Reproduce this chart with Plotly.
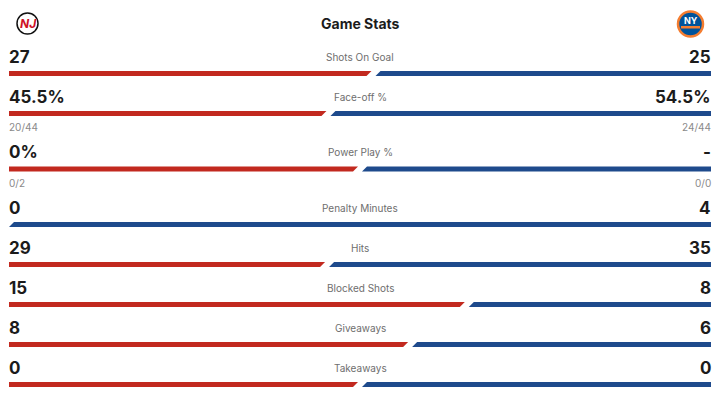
import plotly.graph_objects as go

# ---- data ----
stat_labels = ["Shots On Goal", "Face-off %", "Power Play %", "Penalty Minutes",
               "Hits", "Blocked Shots", "Giveaways", "Takeaways"]
home_text = ["27", "45.5%", "0%", "0", "29", "15", "8", "0"]
away_text = ["25", "54.5%", "-", "4", "35", "8", "6", "0"]
home_vals = [27, 45.5, 0, 0, 29, 15, 8, 0]
away_vals = [25, 54.5, None, 4, 35, 8, 6, 0]
home_sub = ["", "20/44", "0/2", "", "", "", "", ""]
away_sub = ["", "24/44", "0/0", "", "", "", "", ""]
title = "Game Stats"

# ---- style ----
RED = "#C2291F"
BLUE = "#1E4A8C"
FONT = "Inter"
X0, X1 = 9, 711
W = X1 - X0
THICK = 5
SLANT = 5
GAP = 9

fig = go.Figure()
ann = []

y = 71.0
for i, lab in enumerate(stat_labels):
    h = home_vals[i] or 0
    a = away_vals[i] or 0
    frac = 0.5 if (h + a) == 0 else h / (h + a)
    top, bot = y, y + THICK
    s = X0 + W * frac
    if frac > 0:
        rx = [X0, s - GAP / 2 + SLANT / 2, s - GAP / 2 - SLANT / 2, X0, X0]
        fig.add_trace(go.Scatter(x=rx, y=[top, top, bot, bot, top], fill="toself",
                                 fillcolor=RED, line=dict(width=0), mode="lines",
                                 hoverinfo="skip", showlegend=False))
    if frac < 1:
        if frac == 0:
            bl_top, bl_bot = X0 + SLANT, X0
        else:
            bl_top, bl_bot = s + GAP / 2 + SLANT / 2, s + GAP / 2 - SLANT / 2
        bx = [bl_top, X1, X1, bl_bot, bl_top]
        fig.add_trace(go.Scatter(x=bx, y=[top, top, bot, bot, top], fill="toself",
                                 fillcolor=BLUE, line=dict(width=0), mode="lines",
                                 hoverinfo="skip", showlegend=False))
    vy = y - 14.5
    ann.append(dict(x=X0 - 2.5, y=vy, text=home_text[i], xanchor="left", yanchor="middle",
                    showarrow=False, font=dict(family=FONT, size=17, color="#1b1b1b", weight=700)))
    ann.append(dict(x=X1 + 1.5, y=vy, text=away_text[i], xanchor="right", yanchor="middle",
                    showarrow=False, font=dict(family=FONT, size=17, color="#1b1b1b", weight=700)))
    ann.append(dict(x=360, y=vy, text=lab, xanchor="center", yanchor="middle",
                    showarrow=False, font=dict(family=FONT, size=10, color="#6e6e6e")))
    extra = 0
    if home_sub[i] or away_sub[i]:
        ann.append(dict(x=X0 - 2.5, y=y + 16, text=home_sub[i], xanchor="left", yanchor="middle",
                        showarrow=False, font=dict(family=FONT, size=10, color="#8a8a8a")))
        ann.append(dict(x=X1 + 1.5, y=y + 16, text=away_sub[i], xanchor="right", yanchor="middle",
                        showarrow=False, font=dict(family=FONT, size=10, color="#8a8a8a")))
        extra = 15.5
    y += 40 + extra

ann.append(dict(x=360, y=23.5, text=title, xanchor="center", yanchor="middle", showarrow=False,
                font=dict(family=FONT, size=14, color="#1b1b1b", weight=700)))

# team logos (simplified)
shapes = [
    dict(type="circle", xref="x", yref="y", x0=17, x1=38, y0=13, y1=34,
         line=dict(color="#111111", width=1.5), fillcolor="white"),
    dict(type="circle", xref="x", yref="y", x0=678, x1=703, y0=11.5, y1=36.5,
         line=dict(color="#F47D30", width=2.5), fillcolor="#00539B"),
    dict(type="rect", xref="x", yref="y", x0=681, x1=700, y0=26, y1=28.5,
         line=dict(width=0), fillcolor="#F47D30"),
]
ann.append(dict(x=28, y=23, text="<b><i>NJ</i></b>", showarrow=False, xanchor="center",
                yanchor="middle", font=dict(family=FONT, size=12, color="#CE1126")))
ann.append(dict(x=690.5, y=20.5, text="<b>NY</b>", showarrow=False, xanchor="center",
                yanchor="middle", font=dict(family=FONT, size=9, color="white")))

fig.update_layout(
    width=720, height=396, margin=dict(l=0, r=0, t=0, b=0),
    paper_bgcolor="white", plot_bgcolor="white",
    xaxis=dict(range=[0, 720], visible=False, fixedrange=True),
    yaxis=dict(range=[396, 0], visible=False, fixedrange=True),
    annotations=ann, shapes=shapes, showlegend=False,
)
fig.write_html("out.html")
